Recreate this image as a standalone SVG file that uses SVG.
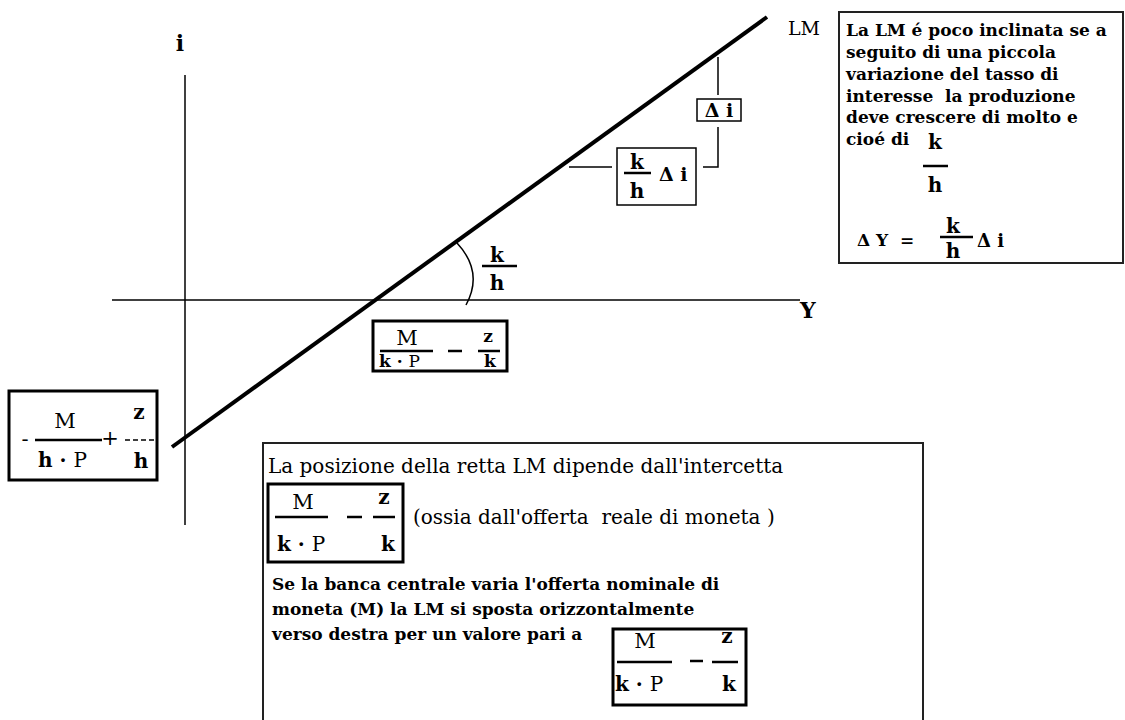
<svg xmlns="http://www.w3.org/2000/svg" width="1125" height="720" viewBox="0 0 1125 720">
<style>
text{font-family:"DejaVu Serif","Liberation Serif",serif;fill:#000}
.b{font-weight:bold;font-size:17px}
.r{font-size:20px}
.f{font-size:20px;font-weight:bold;text-anchor:middle}
.fr{font-size:21px;text-anchor:middle}
.s{font-size:17px}
.bar{stroke:#000;stroke-width:2.5}
.thin{stroke:#000;stroke-width:1.5;fill:none}
.box3{fill:none;stroke:#000;stroke-width:3}
.box2{fill:none;stroke:#222;stroke-width:2}
</style>
<rect width="1125" height="720" fill="#fff"/>
<g id="axes">
<line x1="185" y1="75" x2="185" y2="525" class="thin"/>
<line x1="112" y1="300" x2="800" y2="300" class="thin"/>
<text x="180" y="51" style="font-size:22px;font-weight:bold;text-anchor:middle">i</text>
<text x="800" y="318" style="font-size:22px;font-weight:bold">Y</text>
</g>
<g id="connectors">
<line x1="172" y1="447" x2="767" y2="17" stroke="#000" stroke-width="4"/>
<line x1="718" y1="57" x2="718" y2="95" class="thin"/>
<polyline points="718,127 718,167 703,167" class="thin"/>
<line x1="569" y1="167" x2="612" y2="167" class="thin"/>
<path d="M457,243 Q484,272 466,305" class="thin" stroke-width="2"/>
</g>
<g id="lm-label"><text x="788" y="35" style="font-size:19px">LM</text></g>
<g id="angle-label">
<text x="497" y="262" class="f">k</text>
<line x1="482" y1="266" x2="517" y2="266" class="bar"/>
<text x="497" y="290" class="f">h</text>
</g>
<g id="delta-i">
<rect x="697" y="99" width="44" height="22" fill="none" stroke="#000" stroke-width="1.5"/>
<text x="719" y="117" style="font-size:19px;font-weight:bold;text-anchor:middle">Δ i</text>
</g>
<g id="kh-delta-i">
<rect x="617" y="148" width="79" height="57" fill="none" stroke="#000" stroke-width="1.5"/>
<text x="637" y="169" class="f">k</text>
<line x1="624" y1="173" x2="651" y2="173" class="bar"/>
<text x="637" y="198" class="f">h</text>
<text x="659" y="181" style="font-size:19px;font-weight:bold">Δ i</text>
</g>
<g id="info-box">
<rect x="839" y="12" width="284" height="251" class="box2"/>
<text class="b" x="846" y="36">La LM é poco inclinata se a</text>
<text class="b" x="846" y="58">seguito di una piccola</text>
<text class="b" x="846" y="80">variazione del tasso di</text>
<text class="b" x="846" y="102" xml:space="preserve">interesse  la produzione</text>
<text class="b" x="846" y="123">deve crescere di molto e</text>
<text class="b" x="846" y="145">cioé di</text>
<text x="935" y="149" class="f">k</text>
<line x1="923" y1="166" x2="948" y2="166" class="bar"/>
<text x="935" y="192" class="f">h</text>
<text class="b" x="857" y="246" xml:space="preserve">Δ Y  =</text>
<text x="953" y="233" class="f">k</text>
<line x1="940" y1="237" x2="973" y2="237" class="bar"/>
<text x="953" y="258" class="f">h</text>
<text x="977" y="247" style="font-size:18px;font-weight:bold">Δ i</text>
</g>
<g id="x-intercept">
<rect x="373" y="321" width="134" height="50" class="box3"/>
<text x="407" y="345" class="fr">M</text>
<line x1="380" y1="351" x2="433" y2="351" class="bar"/>
<text x="379" y="367" class="s" font-weight="bold" xml:space="preserve">k · <tspan font-weight="normal">P</tspan></text>
<line x1="448" y1="351" x2="462" y2="351" class="bar"/>
<text x="488" y="342" class="s" font-weight="bold" text-anchor="middle">z</text>
<line x1="478" y1="351" x2="500" y2="351" class="bar"/>
<text x="490" y="367" class="s" font-weight="bold" text-anchor="middle">k</text>
</g>
<g id="y-intercept">
<rect x="9" y="391" width="148" height="89" class="box3"/>
<text x="25" y="446" class="fr">-</text>
<text x="65" y="428" class="fr">M</text>
<line x1="35" y1="440" x2="102" y2="440" class="bar"/>
<text x="38" y="467" class="f" style="text-anchor:start" xml:space="preserve">h · <tspan font-weight="normal">P</tspan></text>
<text x="110" y="445" class="fr">+</text>
<text x="139" y="419" class="f">z</text>
<line x1="125" y1="440" x2="157" y2="440" stroke="#000" stroke-width="1.5" stroke-dasharray="5,3"/>
<text x="141" y="468" class="f">h</text>
</g>
<g id="note-box">
<rect x="263" y="443" width="660" height="285" class="box2"/>
<text class="r" x="268" y="473">La posizione della retta LM dipende dall'intercetta</text>
<rect x="268" y="484" width="135" height="78" class="box3"/>
<text x="303" y="509" class="fr">M</text>
<line x1="275" y1="517" x2="328" y2="517" class="bar"/>
<text x="277" y="551" class="f" style="text-anchor:start" xml:space="preserve">k · <tspan font-weight="normal">P</tspan></text>
<line x1="347" y1="517" x2="362" y2="517" class="bar"/>
<text x="384" y="504" class="f">z</text>
<line x1="373" y1="517" x2="395" y2="517" class="bar"/>
<text x="388" y="551" class="f">k</text>
<text class="r" x="413" y="524" xml:space="preserve">(ossia dall'offerta  reale di moneta )</text>
<text class="b" x="272" y="590">Se la banca centrale varia l'offerta nominale di</text>
<text class="b" x="272" y="615">moneta (M) la LM si sposta orizzontalmente</text>
<text class="b" x="272" y="640">verso destra per un valore pari a</text>
<rect x="613" y="629" width="133" height="76" class="box3"/>
<text x="645" y="648" class="fr">M</text>
<line x1="617" y1="662" x2="672" y2="662" class="bar"/>
<text x="615" y="691" class="f" style="text-anchor:start" xml:space="preserve">k · <tspan font-weight="normal">P</tspan></text>
<line x1="690" y1="661" x2="703" y2="661" class="bar"/>
<text x="727" y="643" class="f">z</text>
<line x1="712" y1="662" x2="738" y2="662" class="bar"/>
<text x="729" y="691" class="f">k</text>
</g>
</svg>
